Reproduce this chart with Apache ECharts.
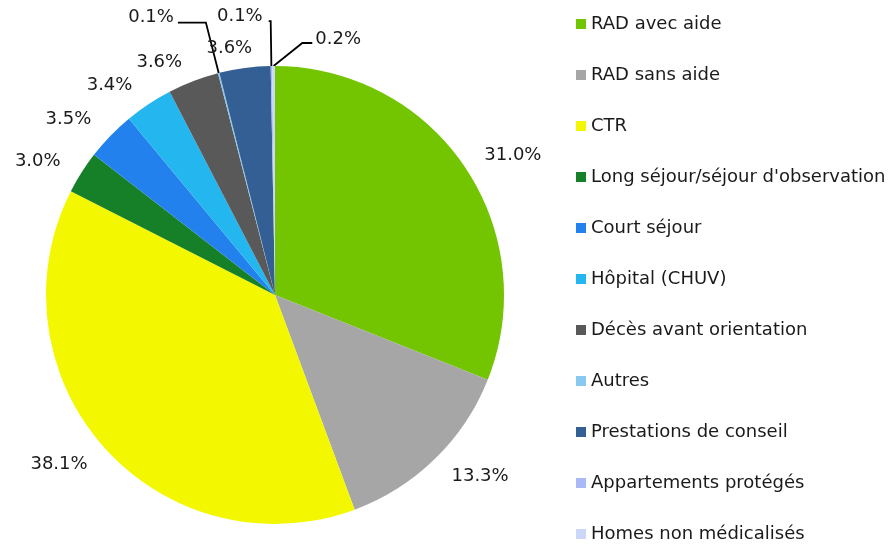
<!DOCTYPE html>
<html><head><meta charset="utf-8">
<script src="https://cdn.jsdelivr.net/npm/echarts@6/dist/echarts.min.js"></script>
<style>html,body{margin:0;padding:0;background:#fff}#c{width:890px;height:546px}</style>
</head><body><div id="c"></div>
<script>
const categories = ["RAD avec aide","RAD sans aide","CTR","Long séjour/séjour d'observation","Court séjour","Hôpital (CHUV)","Décès avant orientation","Autres","Prestations de conseil","Appartements protégés","Homes non médicalisés"];
const values = [31.0,13.3,38.1,3.0,3.5,3.4,3.6,0.1,3.6,0.1,0.2];
const colors = ["#72c500","#a6a6a6","#f3f800","#168029","#2381ee","#24b6ef","#595959","#89c9f0","#345f95","#a9b9f5","#cbd8f8"];
// label leader style settings [length, length2, showLine, dx, dy]
const leader = [[19,0,false,0,0],[25,0,false,-5,0],[22,0,false,4,2],[20,0,false,0,0],[21,0,false,0,-2],[22,0,false,0,0],[20,0,false,0,0],[52,28,true,0,-5],[20,0,false,14,0],[45,2,true,-2,-5],[23,10,true,0,0]];
const FONT = '"DejaVu Sans", Verdana, sans-serif';

const data = categories.map((n,i)=>({
  name:n, value:values[i], itemStyle:{color:colors[i]},
  labelLine:{show:leader[i][2], length:leader[i][0], length2:leader[i][1]}
}));

const chart = echarts.init(document.getElementById('c'), null, {renderer:'canvas'});
chart.setOption({
  animation:false,
  textStyle:{fontFamily:FONT},
  legend:{
    orient:'vertical', left:576, top:13, padding:0, itemWidth:10, itemHeight:10, itemGap:29,
    icon:'rect', height:540,
    textStyle:{fontSize:18, color:'#1a1a1a', lineHeight:22, fontFamily:FONT},
    data:categories
  },
  series:[{
    type:'pie', center:[275,295], radius:229, startAngle:90, clockwise:true,
    avoidLabelOverlap:false,
    label:{show:true, position:'outside', fontSize:18, color:'#1a1a1a', fontFamily:FONT,
      formatter:p=>p.value.toFixed(1)+'%', distanceToLabelLine:4},
    labelLine:{lineStyle:{color:'#000', width:1.8}},
    itemStyle:{borderWidth:0},
    labelLayout:function(p){
      const i=p.dataIndex;
      if(i===10 && p.labelLinePoints){
        const p0=p.labelLinePoints[0], p1=p.labelLinePoints[1];
        const rise = p0[1]-p1[1];
        const q1=[p0[0]+rise*1.25, p1[1]];
        const q2=[q1[0]+10, p1[1]];
        return {x:q2[0]+3, y:q2[1]-4, align:'left', verticalAlign:'middle', labelLinePoints:[p0,q1,q2]};
      }
      return {dx:leader[i][3], dy:leader[i][4]};
    },
    data:data
  }]
});
</script></body></html>
